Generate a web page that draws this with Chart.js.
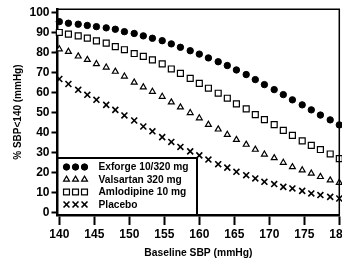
<!DOCTYPE html>
<html>
<head>
<meta charset="utf-8">
<script src="https://cdn.jsdelivr.net/npm/chart.js@4"></script>
<style>
html, body { margin: 0; padding: 0; background: #fff; overflow: hidden; }
#wrap { width: 352px; height: 263px; position: relative; }
</style>
</head>
<body>
<div id="wrap"><canvas id="chart"></canvas></div>
<script>
const FONT = "'Liberation Sans', Arial, sans-serif";

// Baseline SBP (mmHg) at each marker
const sbp = [140, 141.3, 142.7, 144, 145.3, 146.7, 148, 149.3, 150.7, 152, 153.3,
             154.7, 156, 157.3, 158.7, 160, 161.3, 162.7, 164, 165.3, 166.7,
             168, 169.3, 170.7, 172, 173.3, 174.7, 176, 177.3, 178.7, 180];

const xTicks = [140, 145, 150, 155, 160, 165, 170, 175, 180];
const yTicks = [0, 10, 20, 30, 40, 50, 60, 70, 80, 90, 100];

// % of patients reaching SBP < 140
const exforge = [95.3, 94.5, 94.0, 93.4, 92.8, 92.2, 91.5, 90.3, 89.4, 88.2, 87.0,
                 85.8, 84.2, 82.5, 80.8, 79.1, 77.2, 75.3, 73.4, 71.2, 68.9,
                 66.4, 63.9, 61.4, 58.9, 56.3, 53.8, 51.3, 48.7, 46.3, 43.8];
const valsartan = [81.6, 80.3, 78.0, 76.3, 74.2, 72.5, 70.4, 68.0, 65.0, 62.6, 60.4,
                   57.9, 55.1, 52.6, 49.8, 47.2, 43.9, 41.6, 38.9, 36.4, 34.0,
                   31.5, 29.1, 27.3, 25.0, 22.8, 21.2, 19.6, 17.9, 16.2, 15.0];
const amlodipine = [89.9, 89.1, 88.2, 87.1, 85.7, 84.6, 82.8, 81.3, 79.4, 78.0, 76.2,
                    74.2, 71.7, 69.5, 67.0, 64.5, 62.1, 59.6, 57.1, 54.3, 51.8,
                    48.9, 46.4, 43.9, 41.1, 38.6, 35.8, 33.6, 31.5, 29.3, 27.0];
const placebo = [66.7, 64.2, 61.3, 58.8, 56.3, 53.8, 51.3, 48.5, 46.0, 43.0, 40.6,
                 37.7, 35.3, 32.8, 30.6, 28.6, 26.5, 24.2, 22.5, 20.4, 18.7,
                 17.1, 15.4, 14.3, 12.9, 12.1, 10.9, 9.6, 8.8, 7.9, 7.1];

const labels = ['Exforge 10/320 mg', 'Valsartan 320 mg', 'Amlodipine 10 mg', 'Placebo'];

function serie(label, values, style, radius, fill, bw) {
    return {
        label: label,
        data: values.map((v, i) => ({ x: sbp[i], y: v })),
        showLine: false,
        pointStyle: style,
        pointRadius: radius,
        pointBackgroundColor: fill,
        pointBorderColor: '#000',
        pointBorderWidth: bw,
        clip: false
    };
}

// recuadro de leyenda dentro del area, con tres simbolos por fila
const legendBox = {
    id: 'legendBox',
    afterDatasetsDraw(chart) {
        const { ctx, chartArea: a } = chart;
        const left = a.left, right = a.left + 139.5, top = 158, bottom = a.bottom;
        ctx.save();
        ctx.fillStyle = '#fff';
        ctx.fillRect(left, top, right - left, bottom - top);
        ctx.strokeStyle = '#000';
        ctx.lineWidth = 2;
        ctx.strokeRect(left, top, right - left, bottom - top);

        chart.data.datasets.forEach((ds, i) => {
            const y = top + 9 + i * 12.5;
            for (let k = 0; k < 3; k++) {
                ctx.fillStyle = ds.pointBackgroundColor;
                ctx.strokeStyle = '#000';
                ctx.lineWidth = ds.pointBorderWidth;
                Chart.helpers.drawPoint(ctx, {
                    pointStyle: ds.pointStyle,
                    radius: ds.pointRadius,
                    rotation: 0,
                    borderWidth: ds.pointBorderWidth
                }, left + 9 + k * 9, y);
            }
            ctx.fillStyle = '#000';
            ctx.font = 'bold 10.2px ' + FONT;
            ctx.textBaseline = 'middle';
            ctx.textAlign = 'left';
            ctx.fillText(ds.label, left + 41, y + 0.5);
        });
        ctx.restore();
    },
    afterDraw(chart) {
        // marco superior y derecho
        const { ctx, chartArea: a } = chart;
        ctx.save();
        ctx.strokeStyle = '#000';
        ctx.lineWidth = 1.5;
        ctx.beginPath();
        ctx.moveTo(a.left, a.top);
        ctx.lineTo(a.right, a.top);
        ctx.lineTo(a.right, a.bottom);
        ctx.stroke();
        ctx.restore();
    }
};

new Chart(document.getElementById('chart'), {
    type: 'scatter',
    data: {
        datasets: [
            serie(labels[0], exforge, 'circle', 3.2, '#000', 1),
            serie(labels[1], valsartan, 'triangle', 3.4, '#fff', 1.2),
            serie(labels[2], amlodipine, 'rect', 4.2, '#fff', 1.2),
            serie(labels[3], placebo, 'crossRot', 4.2, '#000', 1.6)
        ]
    },
    options: {
        responsive: true,
        maintainAspectRatio: false,
        animation: false,
        devicePixelRatio: 1,
        layout: { padding: { top: 8.4, right: 12.7, left: 0, bottom: 0 } },
        plugins: {
            legend: { display: false },
            tooltip: { enabled: false }
        },
        scales: {
            x: {
                type: 'linear',
                min: 139.74,
                max: 180,
                afterBuildTicks: s => { s.ticks = xTicks.map(v => ({ value: v })); },
                afterFit: s => { s.height = 48; },
                grid: { display: true, drawOnChartArea: false, drawTicks: true, tickLength: 10, tickWidth: 2, color: '#000' },
                border: { display: true, color: '#000', width: 2.5 },
                ticks: { color: '#000', padding: 2, maxRotation: 0, autoSkip: false,
                         font: { family: FONT, size: 12, weight: 'bold' } },
                title: { display: true, text: 'Baseline SBP (mmHg)', color: '#000',
                         font: { family: FONT, size: 10.3, weight: 'bold' },
                         padding: { top: 0, bottom: 4 } }
            },
            y: {
                min: -1.14,
                max: 101.5,
                afterBuildTicks: s => { s.ticks = yTicks.map(v => ({ value: v })); },
                afterFit: s => { s.width = 57.5; },
                grid: { display: true, drawOnChartArea: false, drawTicks: true, tickLength: 6, tickWidth: 2, color: '#000' },
                border: { display: true, color: '#000', width: 2.5 },
                ticks: { color: '#000', padding: 2,
                         font: { family: FONT, size: 12, weight: 'bold' } },
                title: { display: true, text: '% SBP<140 (mmHg)', color: '#000',
                         font: { family: FONT, size: 10, weight: 'bold' },
                         padding: { top: 12, bottom: 0 } }
            }
        }
    },
    plugins: [legendBox]
});
</script>
</body>
</html>
